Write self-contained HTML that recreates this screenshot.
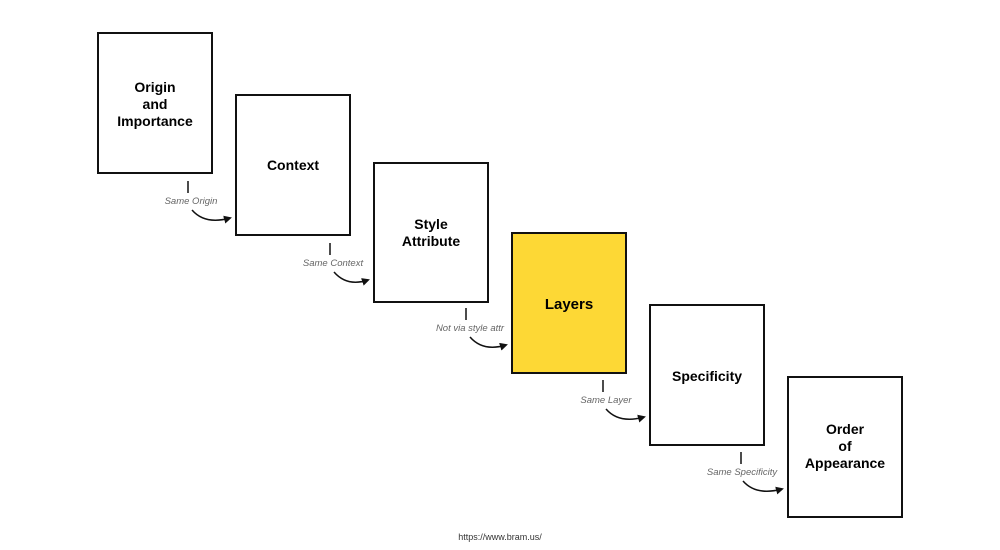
<!DOCTYPE html>
<html><head><meta charset="utf-8"><style>
body{margin:0;background:#fff;width:1000px;height:550px;overflow:hidden}
svg{display:block}
.b{fill:#fff;stroke:#111;stroke-width:2}
.t{font-family:"Liberation Sans",sans-serif;font-weight:bold;font-size:14px;fill:#000;text-anchor:middle}
.l{font-family:"Liberation Sans",sans-serif;font-style:italic;font-size:9.5px;fill:#666;text-anchor:middle}
.c{fill:none;stroke:#111;stroke-width:1.5}
</style></head><body>
<svg width="1000" height="550" viewBox="0 0 1000 550">
<defs><marker id="a" markerWidth="8" markerHeight="8" refX="6" refY="4" orient="auto" markerUnits="userSpaceOnUse"><path d="M0,0 L8,4 L0,8 Z" fill="#111"/></marker></defs>
<rect class="b" x="98" y="33" width="114" height="140"/>
<text class="t" x="155" y="92">Origin</text><text class="t" x="155" y="109">and</text><text class="t" x="155" y="126">Importance</text>
<rect class="b" x="236" y="95" width="114" height="140"/>
<text class="t" x="293" y="170">Context</text>
<rect class="b" x="374" y="163" width="114" height="139"/>
<text class="t" x="431" y="229">Style</text><text class="t" x="431" y="246">Attribute</text>
<rect x="512" y="233" width="114" height="140" fill="#fdd835" stroke="#111" stroke-width="2"/>
<text class="t" x="569" y="309" style="font-size:15px">Layers</text>
<rect class="b" x="650" y="305" width="114" height="140"/>
<text class="t" x="707" y="381">Specificity</text>
<rect class="b" x="788" y="377" width="114" height="140"/>
<text class="t" x="845" y="434">Order</text><text class="t" x="845" y="451">of</text><text class="t" x="845" y="468">Appearance</text>
<g>
<line class="c" x1="188" y1="181" x2="188" y2="193"/><text class="l" x="191" y="204">Same Origin</text>
<path class="c" d="M192,210 Q205,225 230,218" marker-end="url(#a)"/>
<line class="c" x1="330" y1="243" x2="330" y2="255"/><text class="l" x="333" y="266">Same Context</text>
<path class="c" d="M334,272 Q347,287 368,280" marker-end="url(#a)"/>
<line class="c" x1="466" y1="308" x2="466" y2="320"/><text class="l" x="470" y="331">Not via style attr</text>
<path class="c" d="M470,337 Q483,352 506,345" marker-end="url(#a)"/>
<line class="c" x1="603" y1="380" x2="603" y2="392"/><text class="l" x="606" y="403">Same Layer</text>
<path class="c" d="M606,409 Q619,424 644,417" marker-end="url(#a)"/>
<line class="c" x1="741" y1="452" x2="741" y2="464"/><text class="l" x="742" y="475">Same Specificity</text>
<path class="c" d="M743,481 Q756,496 782,489" marker-end="url(#a)"/>
</g>
<text x="500" y="540" style="font-family:'Liberation Sans',sans-serif;font-size:9px;fill:#333;text-anchor:middle">https://www.bram.us/</text>
</svg>
</body></html>
